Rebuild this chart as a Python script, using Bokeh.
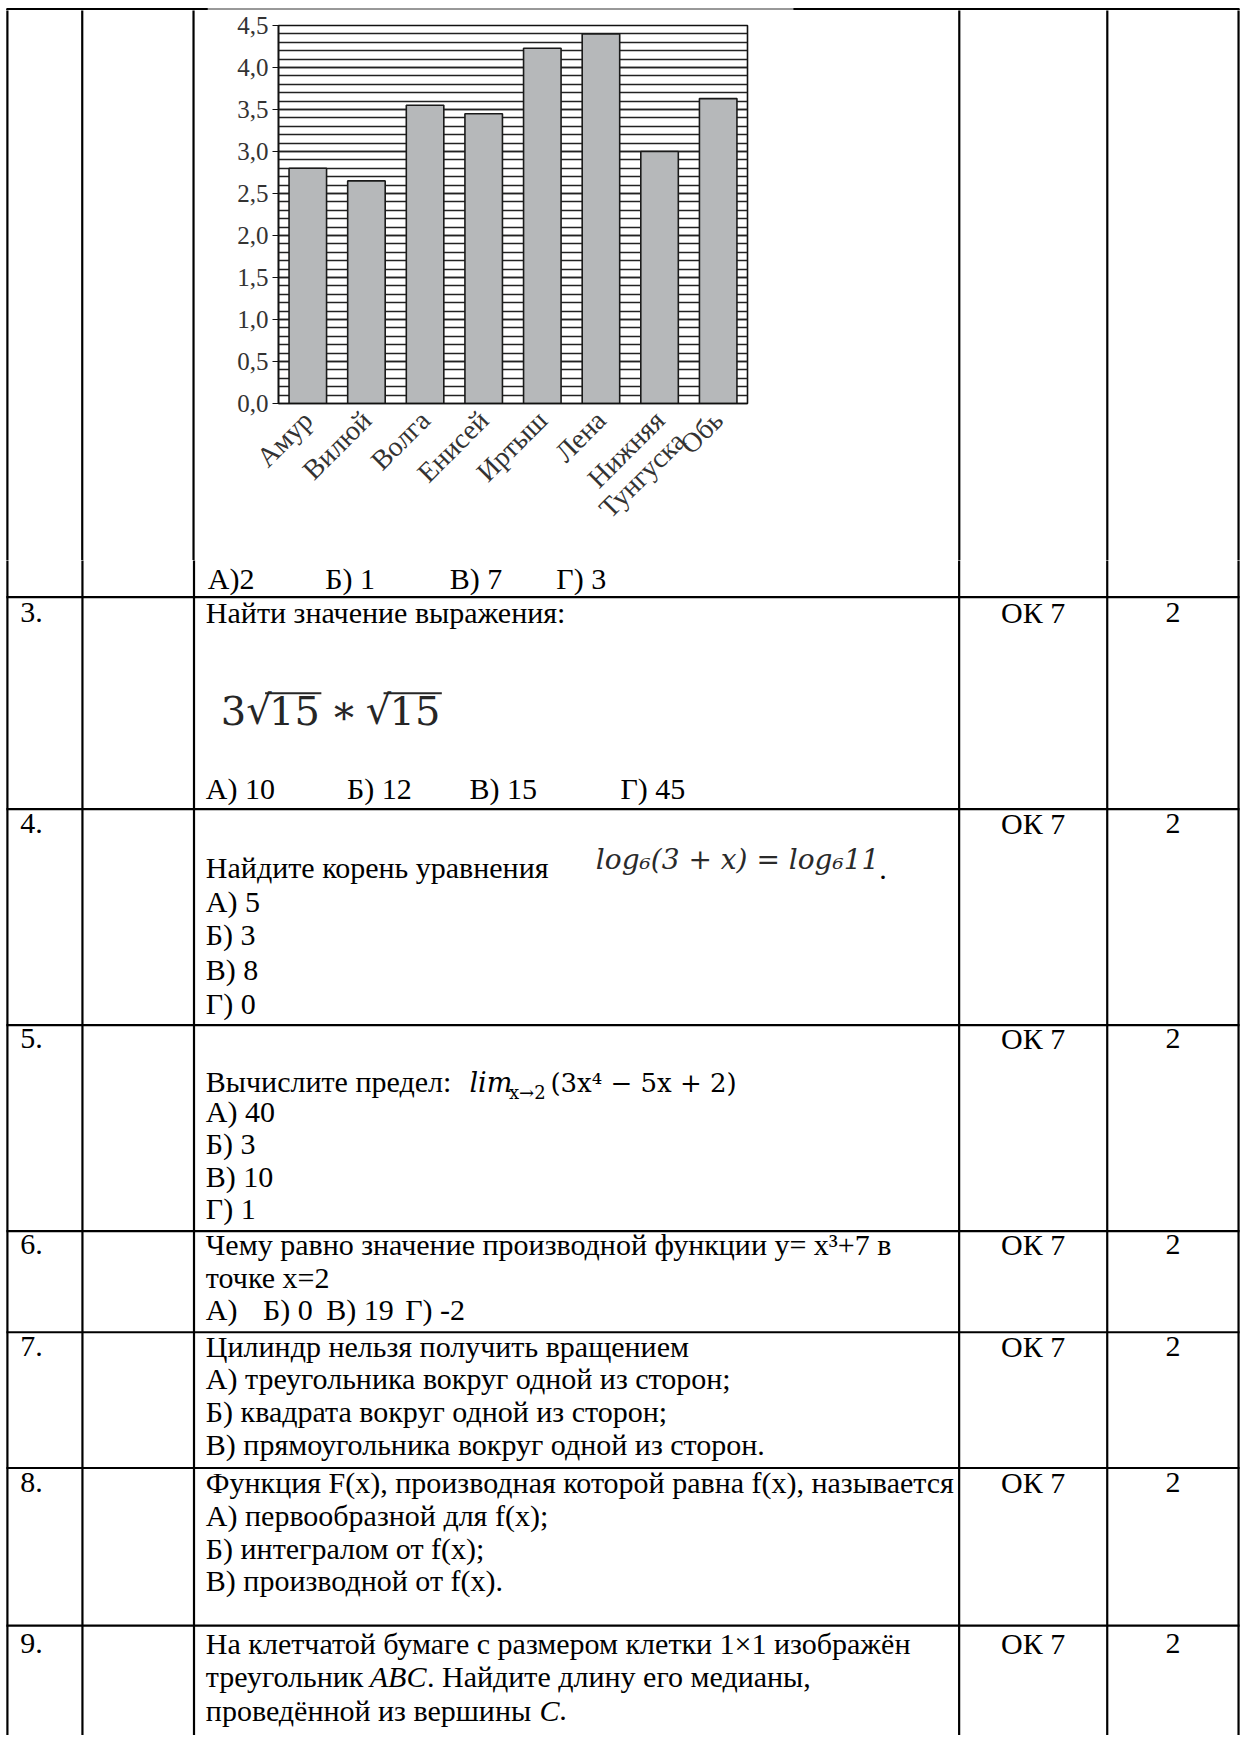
import math
from bokeh.plotting import figure
from bokeh.models import (Range1d, FactorRange, SingleIntervalTicker,
                          CustomJSTickFormatter, ColumnDataSource)
from bokeh.layouts import column, row
from bokeh.embed import file_html
from bokeh.resources import INLINE
from bokeh.core.properties import value

# ---------------- chart data ----------------
rivers = ["Амур", "Вилюй", "Волга", "Енисей", "Иртыш", "Лена", "\nНижняя\nТунгуска", "Обь"]
depths = [2.8, 2.65, 3.55, 3.45, 4.23, 4.4, 3.0, 3.63]
y_max = 4.5
y_step = 0.5

# ---------------- page text ----------------
row2_answers = ["А)2", "Б) 1", "В) 7", "Г) 3"]
q3_text = "Найти значение выражения:"
q3_parts = ["3", "√", "15", "∗", "√", "15"]
q3_answers = ["А) 10", "Б) 12", "В) 15", "Г) 45"]
q4_text = "Найдите корень уравнения"
q4_formula = "log\u2086(3 + x) = log\u208611"
q4_answers = ["А) 5", "Б) 3", "В) 8", "Г) 0"]
q5_text = "Вычислите предел:"
q5_answers = ["А) 40", "Б) 3", "В) 10", "Г) 1"]
q6_lines = ["Чему равно значение производной функции y= x\u00b3+7 в", "точке x=2"]
q6_answers = ["А)", "Б) 0", "В) 19", "Г) -2"]
q7_lines = ["Цилиндр нельзя получить вращением",
            "А) треугольника вокруг одной из сторон;",
            "Б) квадрата вокруг одной из сторон;",
            "В) прямоугольника вокруг одной из сторон."]
q8_lines = ["Функция F(x), производная которой равна f(x), называется",
            "А) первообразной для f(x);",
            "Б) интегралом от f(x);",
            "В) производной от f(x)."]
q9_line1 = "На клетчатой бумаге с размером клетки 1×1 изображён"
q9_line2 = ["треугольник", "ABC", ". Найдите длину его медианы,"]
q9_line3 = ["проведённой из вершины", "C", "."]
numbers = ["3.", "4.", "5.", "6.", "7.", "8.", "9."]
ok_label = "ОК 7"
points = "2"

# ---------------- page geometry (reference pixels) ----------------
PAGE_W, PAGE_H = 1257, 1751
AVAIL_W, AVAIL_H = 1241, 1735
SX = AVAIL_W / PAGE_W
SY = AVAIL_H / PAGE_H


def px(x):
    return int(round(x * SX))


def py(y):
    return int(round(y * SY))


VX = [7, 83, 196, 971, 1121, 1254]
TOP_Y = 6.5
SPLIT_TOP = 10
SPLIT_MID = 565
CH_X0, CH_X1 = 198, 804
FR_X0, FR_X1 = 282, 757
FR_Y0, FR_Y1 = 25, 407
ROW_LINES = [602, 816, 1034, 1242, 1344, 1481, 1640]
LW = 2.2
FONT = value("Liberation Serif")
FSIZE = 30
FS = "%dpx" % FSIZE
SHIFT = 0.37  # baseline correction, in em


def bl(y, size=FSIZE):
    return y - SHIFT * size


def blank(x0, x1, y0, y1):
    p = figure(width=px(x1) - px(x0), height=py(y1) - py(y0),
               x_range=Range1d(x0, x1), y_range=Range1d(y1, y0),
               output_backend="svg", toolbar_location=None,
               x_axis_location=None, y_axis_location=None,
               min_border=0, min_border_left=0, min_border_right=0,
               min_border_top=0, min_border_bottom=0)
    p.frame_align = False
    p.grid.visible = False
    p.outline_line_color = None
    p.border_fill_color = "white"
    p.background_fill_color = "white"
    return p


# ---------------- top strip ----------------
top = blank(0, PAGE_W, 0, SPLIT_TOP)
top.segment(x0=[VX[0] - 1, 803], y0=[TOP_Y, TOP_Y], x1=[210, VX[-1] + 1], y1=[TOP_Y, TOP_Y],
            line_color="black", line_width=LW)
top.segment(x0=[210], y0=[TOP_Y], x1=[803], y1=[TOP_Y], line_color="#333333", line_width=1)
top.segment(x0=VX, y0=[TOP_Y] * len(VX), x1=VX, y1=[SPLIT_TOP + 1] * len(VX),
            line_color="black", line_width=LW)

# ---------------- middle strip ----------------
left = blank(0, CH_X0, SPLIT_TOP, SPLIT_MID)
lx = [v for v in VX if v < CH_X0]
left.segment(x0=lx, y0=[SPLIT_TOP - 1] * len(lx), x1=lx, y1=[SPLIT_MID + 1] * len(lx),
             line_color="black", line_width=LW)

right = blank(CH_X1, PAGE_W, SPLIT_TOP, SPLIT_MID)
rx = [v for v in VX if v > CH_X1]
right.segment(x0=rx, y0=[SPLIT_TOP - 1] * len(rx), x1=rx, y1=[SPLIT_MID + 1] * len(rx),
              line_color="black", line_width=LW)

chart = figure(width=px(CH_X1) - px(CH_X0), height=py(SPLIT_MID) - py(SPLIT_TOP),
               x_range=FactorRange(factors=rivers, range_padding=0),
               y_range=Range1d(0, y_max),
               output_backend="svg", toolbar_location=None,
               min_border_left=px(FR_X0) - px(CH_X0),
               min_border_right=px(CH_X1) - px(FR_X1),
               min_border_top=py(FR_Y0) - py(SPLIT_TOP),
               min_border_bottom=py(SPLIT_MID) - py(FR_Y1))
chart.frame_align = False
chart.border_fill_color = "white"
chart.background_fill_color = "white"
chart.outline_line_color = "#111111"
chart.outline_line_width = 1.6

src = ColumnDataSource(dict(river=rivers, depth=depths))
chart.vbar(x="river", top="depth", width=0.64, source=src,
           fill_color="#b6b8ba", line_color="#1a1a1a", line_width=1.6)

ticker = SingleIntervalTicker(interval=y_step, num_minor_ticks=5)
chart.yaxis.ticker = ticker
chart.ygrid.ticker = ticker
chart.ygrid.grid_line_color = "#222222"
chart.ygrid.grid_line_width = 1.5
chart.ygrid.minor_grid_line_color = "#222222"
chart.ygrid.minor_grid_line_width = 1.5
chart.xgrid.grid_line_color = None
chart.yaxis.formatter = CustomJSTickFormatter(code="return tick.toFixed(1).replace('.', ',');")

for ax in (chart.xaxis, chart.yaxis):
    ax.axis_line_color = "#111111"
    ax.axis_line_width = 1.6
    ax.major_label_text_font = "Liberation Serif"
    ax.major_label_text_color = "#333333"
    ax.minor_tick_line_color = None

chart.yaxis.major_label_text_font_size = "25px"
chart.xaxis.major_label_text_font_size = "28px"
chart.xaxis.major_label_text_line_height = 0.95
chart.yaxis.major_tick_out = 6
chart.yaxis.major_tick_in = 0
chart.yaxis.major_tick_line_color = "#111111"
chart.yaxis.major_label_standoff = 4
chart.xaxis.major_tick_line_color = None
chart.xaxis.major_label_orientation = math.pi / 4
chart.xaxis.major_label_standoff = 6

# ---------------- bottom part ----------------
bot = blank(0, PAGE_W, SPLIT_MID, PAGE_H)
bot.segment(x0=VX, y0=[SPLIT_MID - 1] * len(VX), x1=VX, y1=[PAGE_H + 2] * len(VX),
            line_color="black", line_width=LW)
bot.segment(x0=[VX[0] - 1] * len(ROW_LINES), y0=ROW_LINES,
            x1=[VX[-1] + 1] * len(ROW_LINES), y1=ROW_LINES,
            line_color="black", line_width=LW)

TX = 208
NX = 20
OKX = (VX[3] + VX[4]) / 2
PTX = (VX[4] + VX[5]) / 2

plain = dict(x=[], y=[], t=[])
italic = dict(x=[], y=[], t=[])
centered = dict(x=[], y=[], t=[])


def add(d, x, y, t):
    d["x"].append(x)
    d["y"].append(bl(y))
    d["t"].append(t)


# row 2 answers
for x, t in zip([210, 329, 455, 563], row2_answers):
    add(plain, x, 594, t)

first_lines = [629, 842, 1059, 1267, 1369, 1507, 1669]
for n, y in zip(numbers, first_lines):
    add(plain, NX, y, n)
    add(centered, OKX, y, ok_label)
    add(centered, PTX, y, points)

# q3
add(plain, TX, 629, q3_text)
for x, t in zip([208, 351, 475, 628], q3_answers):
    add(plain, x, 806, t)
# q4
add(plain, TX, 886, q4_text)
for y, t in zip([920, 954, 989, 1023], q4_answers):
    add(plain, TX, y, t)
# q5
add(plain, TX, 1102, q5_text)
for y, t in zip([1132, 1165, 1198, 1230], q5_answers):
    add(plain, TX, y, t)
# q6
for y, t in zip([1267, 1300], q6_lines):
    add(plain, TX, y, t)
for x, t in zip([208, 266, 330, 410], q6_answers):
    add(plain, x, 1332, t)
# q7
for y, t in zip([1369, 1402, 1435, 1468], q7_lines):
    add(plain, TX, y, t)
# q8
for y, t in zip([1507, 1540, 1573, 1606], q8_lines):
    add(plain, TX, y, t)
# q9
add(plain, TX, 1669, q9_line1)
add(plain, TX, 1703, q9_line2[0])
add(italic, 374, 1703, q9_line2[1])
add(plain, 432, 1703, q9_line2[2])
add(plain, TX, 1737, q9_line3[0])
add(italic, 546, 1737, q9_line3[1])
add(plain, 566, 1737, q9_line3[2])

bot.text(x="x", y="y", text="t", source=ColumnDataSource(plain),
         text_font=FONT, text_font_size=FS, text_color="black",
         text_baseline="alphabetic", text_align="left")
bot.text(x="x", y="y", text="t", source=ColumnDataSource(italic),
         text_font=FONT, text_font_size=FS, text_color="black",
         text_font_style="italic", text_baseline="alphabetic", text_align="left")
bot.text(x="x", y="y", text="t", source=ColumnDataSource(centered),
         text_font=FONT, text_font_size=FS, text_color="black",
         text_baseline="alphabetic", text_align="center")

# formula 3√15 * √15
MATH = value("DejaVu Serif")
F1 = 40
bot.text(x=[223, 249, 272, 334, 370, 394], y=[bl(731, F1)] * 6, text=q3_parts,
         text_font=MATH, text_font_size="%dpx" % F1, text_color="#262626",
         text_baseline="alphabetic")
bot.segment(x0=[268, 388], y0=[699, 699], x1=[325, 447], y1=[699, 699],
            line_color="#262626", line_width=2)

# log formula
bot.text(x=[603], y=[bl(877, 28)], text=[q4_formula], text_font=MATH,
         text_font_size="28px", text_font_style="italic", text_color="#2a2a2a",
         text_baseline="alphabetic")
bot.text(x=[890], y=[bl(888)], text=["."], text_font=FONT, text_font_size=FS,
         text_color="black", text_baseline="alphabetic")

# limit formula
bot.text(x=[475], y=[bl(1102, 27)], text=["lim"], text_font=MATH,
         text_font_size="27px", text_font_style="italic", text_color="black",
         text_baseline="alphabetic")
bot.text(x=[515], y=[bl(1109, 18)], text=["x→2"], text_font=MATH,
         text_font_size="18px", text_color="black", text_baseline="alphabetic")
bot.text(x=[557], y=[bl(1102, 26)], text=["(3x\u2074 − 5x + 2)"], text_font=MATH,
         text_font_size="26px", text_color="black", text_baseline="alphabetic")

layout = column(top, row(left, chart, right, spacing=0), bot, spacing=0)

open("out.html", "w").write(file_html(layout, INLINE))
